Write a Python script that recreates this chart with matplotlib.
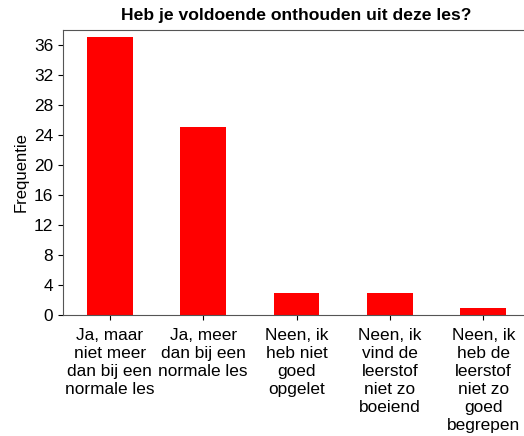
import matplotlib
matplotlib.use("Agg")
import matplotlib.pyplot as plt

categories = [
    "Ja, maar\nniet meer\ndan bij een\nnormale les",
    "Ja, meer\ndan bij een\nnormale les",
    "Neen, ik\nheb niet\ngoed\nopgelet",
    "Neen, ik\nvind de\nleerstof\nniet zo\nboeiend",
    "Neen, ik\nheb de\nleerstof\nniet zo\ngoed\nbegrepen",
]
values = [37, 25, 3, 3, 1]
yticks = list(range(0, 37, 4))

plt.rcParams['font.family'] = ['Liberation Sans', 'DejaVu Sans']

fig = plt.figure(figsize=(5.24, 4.36), dpi=100)
W, H = 524, 436
ax = fig.add_axes([63 / W, (H - 315) / H, 467 / W, 285 / H])

x = list(range(len(categories)))
ax.bar(x, values, width=0.49, color='#ff0000')
ax.set_xlim(-0.5, len(categories) - 0.5)
ax.set_ylim(0, 38)
ax.set_yticks(yticks)
ax.set_xticks(x)
ax.set_xticklabels(categories, rotation=0, ha='center', fontsize=12.4, linespacing=1.25)
ax.tick_params(axis='x', pad=6)
ax.tick_params(axis='y', labelsize=12.4)
ax.set_ylabel("Frequentie", fontsize=12, labelpad=4)
ax.set_title("Heb je voldoende onthouden uit deze les?", fontsize=12.6, fontweight='bold', pad=7)
for s in ax.spines.values():
    s.set_color('#555555')
ax.spines['right'].set_visible(False)

fig.savefig("out.png", dpi=100)
